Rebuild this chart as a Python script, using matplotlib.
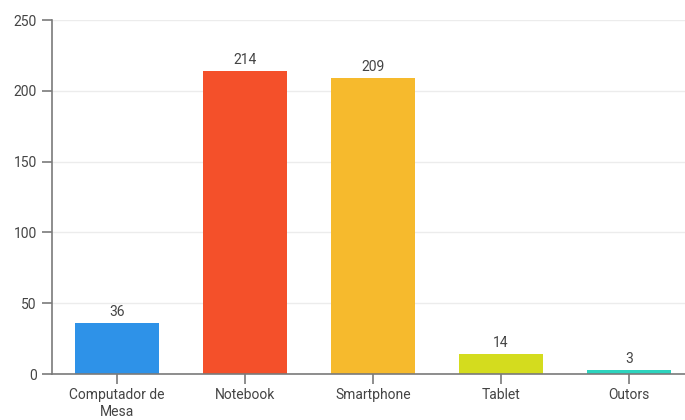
import matplotlib
matplotlib.use("Agg")
import matplotlib.pyplot as plt

categories = ["Computador de\nMesa", "Notebook", "Smartphone", "Tablet", "Outors"]
values = [36, 214, 209, 14, 3]
colors = ["#2E92E8", "#F4502A", "#F6BA2D", "#D4DC1E", "#2DD4BE"]
yticks = [0, 50, 100, 150, 200, 250]

plt.rcParams['font.family'] = ['Roboto', 'DejaVu Sans']
txt = "#444444"
axc = "#7a7a7a"

fig = plt.figure(figsize=(6.85, 4.20), dpi=100)
ax = fig.add_axes([52/685, 46/420, 633/685, 354/420])
x = list(range(len(categories)))
ax.bar(x, values, width=0.65, color=colors, zorder=3)
for xi, v in zip(x, values):
    ax.text(xi, v + 3, str(v), ha='center', va='bottom', fontsize=10, color=txt)

ax.set_xlim(-0.508, -0.508 + 633/128)
ax.set_ylim(0, 250)
ax.set_yticks(yticks)
ax.set_xticks(x)
ax.set_xticklabels(categories, fontsize=10, color=txt, linespacing=1.3)
ax.tick_params(axis='y', labelsize=10, labelcolor=txt, color=axc, length=7, width=1.2, pad=4)
ax.tick_params(axis='x', color=axc, length=7, width=1.2, pad=3)
ax.grid(axis='y', color="#ececec", linewidth=1, zorder=0)
for s in ['top', 'right']:
    ax.spines[s].set_visible(False)
for s in ['left', 'bottom']:
    ax.spines[s].set_color(axc)
    ax.spines[s].set_linewidth(1.2)
ax.spines['bottom'].set_zorder(4)

fig.savefig("out.png", dpi=100)
